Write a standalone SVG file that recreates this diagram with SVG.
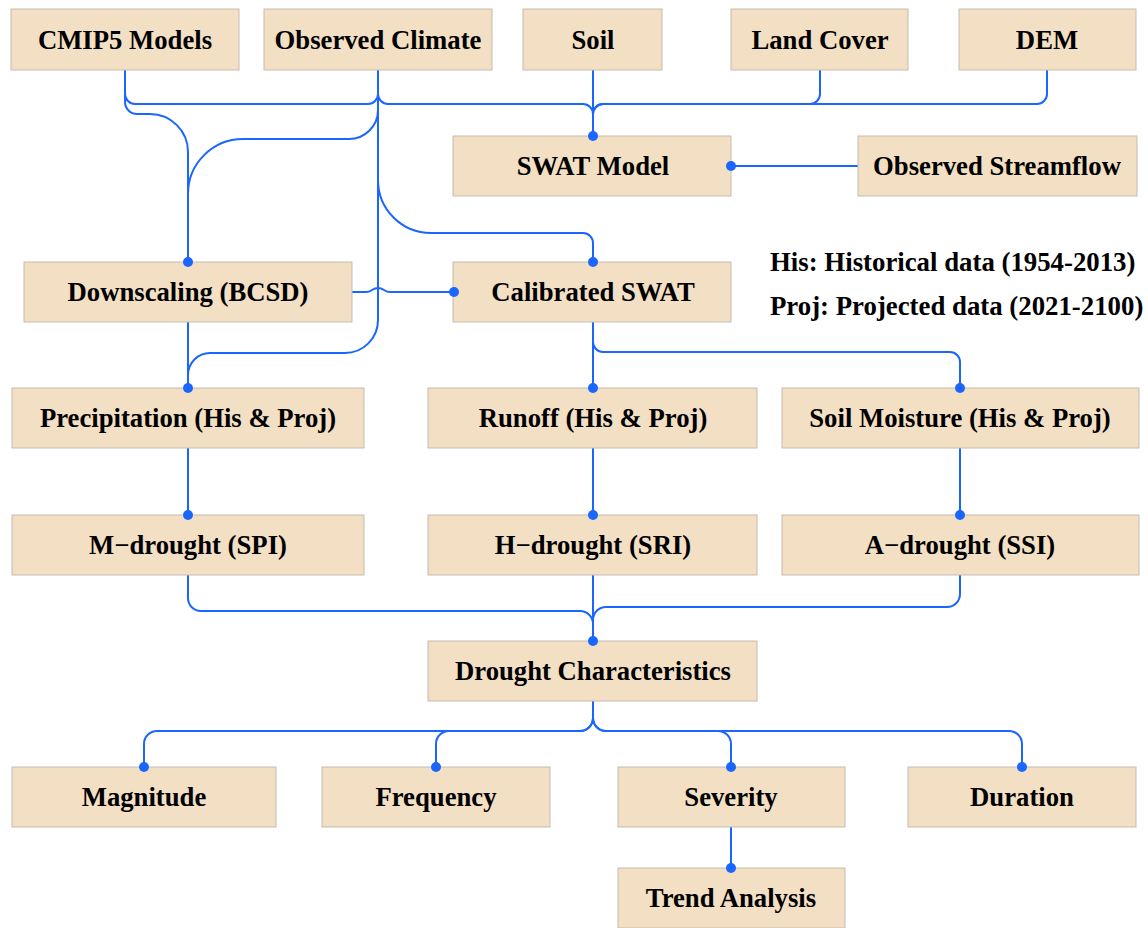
<svg xmlns="http://www.w3.org/2000/svg" width="1148" height="928" viewBox="0 0 1148 928">
<defs>
<style>
.box{fill:#f2dfc4;stroke:#c6bcb0;stroke-width:1}
.t{font-family:"Liberation Serif","Times New Roman",serif;font-weight:bold;font-size:26.7px;fill:#000;text-anchor:middle}
.n{font-family:"Liberation Serif","Times New Roman",serif;font-weight:bold;font-size:26.8px;fill:#000}
.c{fill:none;stroke:#1a66ff;stroke-width:2}
.d{fill:#1a66ff}
</style>
</defs>
<rect width="1148" height="928" fill="#fff"/>
<g id="connectors">
<path class="c" d="M125,70 V102 A12,12 0 0 0 137,114 H150 A38,38 0 0 1 188,152 V262"/>
<path class="c" d="M378,70 V110 A29,29 0 0 1 349,139 H243 A55,55 0 0 0 188,194"/>
<path class="c" d="M125,70 V94 A10,10 0 0 0 135,104 H368 A10,10 0 0 0 378,94"/>
<path class="c" d="M378,70 V94 A10,10 0 0 0 388,104 H583 A10,10 0 0 1 593,114 V136"/>
<path class="c" d="M593,70 V136"/>
<path class="c" d="M820,70 V94 A10,10 0 0 1 810,104 H603 A10,10 0 0 0 593,114"/>
<path class="c" d="M1047,70 V94 A10,10 0 0 1 1037,104 H603 A10,10 0 0 0 593,114"/>
<path class="c" d="M858,166 H731"/>
<path class="c" d="M378,70 V180 A53,53 0 0 0 431,233 H583 A10,10 0 0 1 593,243 V262"/>
<path class="c" d="M378,180 V320 A33,33 0 0 1 345,353 H210 A22,22 0 0 0 188,375 V388"/>
<path class="c" d="M352,292 H366 C372,292 372,288 378,288 C384,288 384,292 390,292 H454"/>
<path class="c" d="M188,322 V388"/>
<path class="c" d="M593,322 V388"/>
<path class="c" d="M593,322 V342 A10,10 0 0 0 603,352 H950 A10,10 0 0 1 960,362 V388"/>
<path class="c" d="M188,448 V515"/>
<path class="c" d="M593,448 V515"/>
<path class="c" d="M960,448 V515"/>
<path class="c" d="M188,575 V598 A13,13 0 0 0 201,611 H580 A13,13 0 0 1 593,624 V641"/>
<path class="c" d="M593,575 V641"/>
<path class="c" d="M960,575 V594 A13,13 0 0 1 947,607 H606 A13,13 0 0 0 593,620"/>
<path class="c" d="M593,701 V718 A13,13 0 0 1 580,731 H157 A13,13 0 0 0 144,744 V767"/>
<path class="c" d="M593,718 A13,13 0 0 1 580,731 H449 A13,13 0 0 0 436,744 V767"/>
<path class="c" d="M593,701 V718 A13,13 0 0 0 606,731 H718 A13,13 0 0 1 731,744 V767"/>
<path class="c" d="M593,718 A13,13 0 0 0 606,731 H1009 A13,13 0 0 1 1022,744 V767"/>
<path class="c" d="M731,827 V868"/>
</g>
<g id="cmip5"><rect class="box" x="11" y="9" width="228" height="61"/><text class="t" x="125" y="49">CMIP5 Models</text></g>
<g id="obsclimate"><rect class="box" x="264" y="9" width="228" height="61"/><text class="t" x="378" y="49">Observed Climate</text></g>
<g id="soil"><rect class="box" x="523" y="9" width="139" height="61"/><text class="t" x="593" y="49">Soil</text></g>
<g id="landcover"><rect class="box" x="731" y="9" width="177" height="61"/><text class="t" x="820" y="49">Land Cover</text></g>
<g id="dem"><rect class="box" x="959" y="9" width="177" height="61"/><text class="t" x="1047" y="49">DEM</text></g>
<g id="swat"><rect class="box" x="453" y="136" width="278" height="60"/><text class="t" x="593" y="175">SWAT Model</text></g>
<g id="obsstream"><rect class="box" x="858" y="136" width="279" height="60"/><text class="t" x="997" y="175">Observed Streamflow</text></g>
<g id="downscaling"><rect class="box" x="24" y="262" width="328" height="60"/><text class="t" x="188" y="301">Downscaling (BCSD)</text></g>
<g id="calswat"><rect class="box" x="453" y="262" width="278" height="60"/><text class="t" x="593" y="301">Calibrated SWAT</text></g>
<g id="legend"><text class="n" x="770" y="271">His: Historical data (1954-2013)</text><text class="n" x="770" y="315">Proj: Projected data (2021-2100)</text></g>
<g id="precip"><rect class="box" x="12" y="388" width="352" height="60"/><text class="t" x="188" y="427">Precipitation (His &amp; Proj)</text></g>
<g id="runoff"><rect class="box" x="428" y="388" width="329" height="60"/><text class="t" x="593" y="427">Runoff (His &amp; Proj)</text></g>
<g id="soilmoist"><rect class="box" x="782" y="388" width="357" height="60"/><text class="t" x="960" y="427">Soil Moisture (His &amp; Proj)</text></g>
<g id="mdrought"><rect class="box" x="12" y="515" width="352" height="60"/><text class="t" x="188" y="554">M−drought (SPI)</text></g>
<g id="hdrought"><rect class="box" x="428" y="515" width="329" height="60"/><text class="t" x="593" y="554">H−drought (SRI)</text></g>
<g id="adrought"><rect class="box" x="782" y="515" width="357" height="60"/><text class="t" x="960" y="554">A−drought (SSI)</text></g>
<g id="droughtchar"><rect class="box" x="428" y="641" width="329" height="60"/><text class="t" x="593" y="680">Drought Characteristics</text></g>
<g id="magnitude"><rect class="box" x="12" y="767" width="264" height="60"/><text class="t" x="144" y="806">Magnitude</text></g>
<g id="frequency"><rect class="box" x="322" y="767" width="228" height="60"/><text class="t" x="436" y="806">Frequency</text></g>
<g id="severity"><rect class="box" x="618" y="767" width="227" height="60"/><text class="t" x="731" y="806">Severity</text></g>
<g id="duration"><rect class="box" x="908" y="767" width="228" height="60"/><text class="t" x="1022" y="806">Duration</text></g>
<g id="trend"><rect class="box" x="618" y="868" width="227" height="60"/><text class="t" x="731" y="907">Trend Analysis</text></g>
<g id="connector-dots">
<circle class="d" cx="188" cy="262" r="5"/>
<circle class="d" cx="593" cy="136" r="5"/>
<circle class="d" cx="731" cy="166" r="5"/>
<circle class="d" cx="454" cy="292" r="5"/>
<circle class="d" cx="593" cy="262" r="5"/>
<circle class="d" cx="188" cy="388" r="5"/>
<circle class="d" cx="593" cy="388" r="5"/>
<circle class="d" cx="960" cy="388" r="5"/>
<circle class="d" cx="188" cy="515" r="5"/>
<circle class="d" cx="593" cy="515" r="5"/>
<circle class="d" cx="960" cy="515" r="5"/>
<circle class="d" cx="593" cy="641" r="5"/>
<circle class="d" cx="144" cy="767" r="5"/>
<circle class="d" cx="436" cy="767" r="5"/>
<circle class="d" cx="731" cy="767" r="5"/>
<circle class="d" cx="1022" cy="767" r="5"/>
<circle class="d" cx="731" cy="868" r="5"/>
</g>
</svg>
